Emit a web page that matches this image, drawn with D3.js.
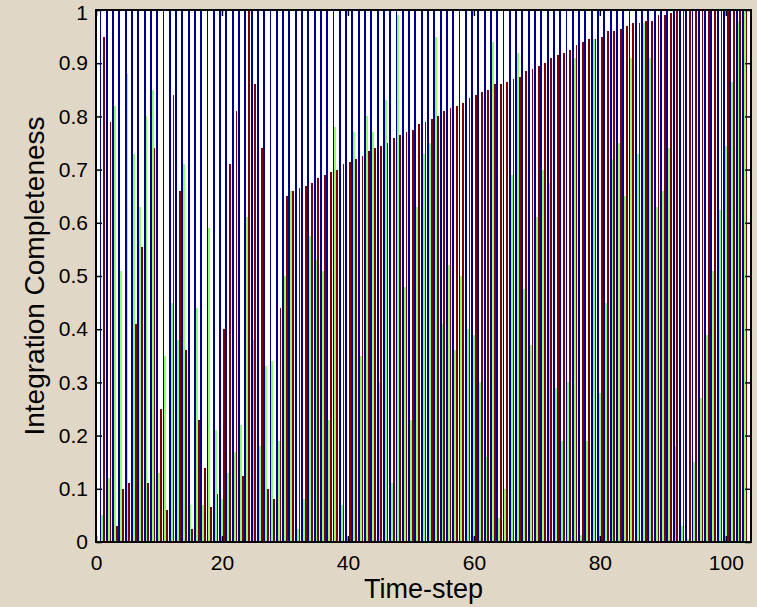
<!DOCTYPE html>
<meta charset="utf-8">
<html>
<head>
<script src="https://cdn.jsdelivr.net/npm/d3@7"></script>
<style>
  body { margin: 0; background: #e0d7c7; }
  svg text { font-family: "Liberation Sans", Arial, sans-serif; fill: #000; }
</style>
</head>
<body>
<div id="my_dataviz"></div>
<script>
// time steps 1..103
var steps = d3.range(1, 104);

// series 1 (dark blue) - always complete
var blueVals = [1,1,1,1,1,1,1,1,1,1, 1,1,1,1,1,1,1,1,1,1,
                1,1,1,1,1,1,1,1,1,1, 1,1,1,1,1,1,1,1,1,1,
                1,1,1,1,1,1,1,1,1,1, 1,1,1,1,1,1,1,1,1,1,
                1,1,1,1,1,1,1,1,1,1, 1,1,1,1,1,1,1,1,1,1,
                1,1,1,1,1,1,1,1,1,1, 1,1,1,1,1,1,1,1,1,1,
                1,1,1];

// series 2 (light green)
var greenVals = [0.05,0.12,0.82,0.51,0.88,0.73,0.63,0.80,0.85,0.13,
                 0.35,0.45,0.38,0.71,0.07,0.44,0.07,0.59,0.21,0.08,
                 0.13,0.17,0.22,0.61,0.38,0.18,0.33,0.34,0.19,0.50,
                 0.66,0.025,0.08,0.575,0.53,0.51,0.23,0.78,0.07,0.01,
                 0.77,0.35,0.80,0.77,0.30,0.83,0.11,0.99,0.48,0.23,
                 0.63,0.73,0.75,0.95,0.41,0.52,0.36,0.50,0.40,0.39,
                 0.30,0.16,0.94,0.045,0.10,0.69,0.92,0.475,0.37,0.61,
                 0.70,0.675,0.29,0.19,0.30,0.91,0.013,0.19,0.945,0.28,
                 0.45,0.72,0.75,0.65,0.91,0.73,0.975,0.91,0.63,0.66,
                 0.74,0.18,0.03,0.005,0.15,0.27,0.39,0.51,0.625,0.745,
                 0.865,0.98,1.0];

// series 3 (dark red)
var redVals = [0.95,0.79,0.03,0.10,0.11,0.41,0.555,0.11,0.74,0.25,
               0.06,0.84,0.66,0.36,0.025,0.23,0.14,0.065,0.09,0.40,
               0.71,0.81,0.125,1.0,0.86,0.74,0.10,0.08,0.44,0.65,
               0.66,0.665,0.67,0.675,0.685,0.69,0.695,0.70,0.71,0.715,
               0.72,0.725,0.735,0.74,0.745,0.75,0.76,0.765,0.77,0.775,
               0.785,0.79,0.795,0.80,0.81,0.815,0.82,0.825,0.835,0.84,
               0.845,0.85,0.86,0.86,0.865,0.87,0.875,0.885,0.89,0.895,
               0.90,0.91,0.915,0.92,0.925,0.935,0.94,0.945,0.945,0.95,
               0.96,0.96,0.965,0.97,0.975,0.975,0.98,0.98,0.99,0.99,
               0.995,1,1,1,1,1,1,1,1,1,
               1,1,1];

var xTicks = [0, 20, 40, 60, 80, 100];
var xTickLabels = ["0", "20", "40", "60", "80", "100"];
var yTicks = [0, 0.1, 0.2, 0.3, 0.4, 0.5, 0.6, 0.7, 0.8, 0.9, 1];
var yTickLabels = ["0", "0.1", "0.2", "0.3", "0.4", "0.5", "0.6", "0.7", "0.8", "0.9", "1"];

var W = 757, H = 607;
var margin = {top: 10, right: 6, bottom: 65, left: 96};
var width = W - margin.left - margin.right,
    height = H - margin.top - margin.bottom;

var svg = d3.select("#my_dataviz")
  .append("svg")
    .attr("width", W)
    .attr("height", H)
  .append("g")
    .attr("transform", "translate(" + margin.left + "," + margin.top + ")");

var x = d3.scaleLinear().domain([0, 104]).range([0, width]);
var y = d3.scaleLinear().domain([0, 1]).range([height, 0]);

svg.append("defs").append("clipPath").attr("id", "clip")
  .append("rect").attr("width", width).attr("height", height);

// white axes background
svg.append("rect")
  .attr("width", width)
  .attr("height", height)
  .attr("fill", "#fff");

// grouped bars: left/right edge of each bar relative to the step, in x units
var series = [
  {vals: blueVals,  color: "#00008f", a: -0.44, b: -0.14},
  {vals: greenVals, color: "#8fff70", a: -0.14, b: 0.16},
  {vals: redVals,   color: "#800000", a: 0.16,  b: 0.44}
];

var bars = svg.append("g").attr("clip-path", "url(#clip)")
  .attr("shape-rendering", "crispEdges");
series.forEach(function(s) {
  bars.append("g").selectAll("rect")
    .data(steps)
    .enter().append("rect")
      .attr("x", function(d) { return Math.round(x(d + s.a)); })
      .attr("width", function(d) {
        return Math.max(1, Math.round(x(d + s.b)) - Math.round(x(d + s.a)));
      })
      .attr("y", function(d, i) { return y(s.vals[i]); })
      .attr("height", function(d, i) { return y(0) - y(s.vals[i]); })
      .attr("fill", s.color);
});

// axes with inward ticks
var fs = "21px";
var xAxis = svg.append("g")
  .attr("transform", "translate(0," + height + ")")
  .call(d3.axisBottom(x).tickValues(xTicks)
        .tickFormat(function(d, i) { return xTickLabels[i]; })
        .tickSizeInner(-6).tickSizeOuter(0).tickPadding(13));
xAxis.selectAll("text").style("font-size", fs);

var yAxis = svg.append("g")
  .call(d3.axisLeft(y).tickValues(yTicks)
        .tickFormat(function(d, i) { return yTickLabels[i]; })
        .tickSizeInner(-6).tickSizeOuter(0).tickPadding(8));
yAxis.selectAll("text").style("font-size", fs)
  // top label sits a touch lower, as in the original
  .attr("dy", function(d) { return d === 1 ? "0.45em" : "0.32em"; });

svg.append("g")
  .call(d3.axisTop(x).tickValues(xTicks).tickFormat("")
        .tickSizeInner(-6).tickSizeOuter(0));
svg.append("g")
  .attr("transform", "translate(" + width + ",0)")
  .call(d3.axisRight(y).tickValues(yTicks).tickFormat("")
        .tickSizeInner(-6).tickSizeOuter(0));

svg.selectAll(".domain").remove();
svg.selectAll(".tick line").attr("stroke", "#000").attr("stroke-width", 1.5);

// box
svg.append("rect")
  .attr("width", width)
  .attr("height", height)
  .attr("fill", "none")
  .attr("stroke", "#000")
  .attr("stroke-width", 2);

// labels
svg.append("text")
  .attr("text-anchor", "middle")
  .attr("x", width / 2)
  .attr("y", height + 56)
  .style("font-size", "27px")
  .text("Time-step");

svg.append("text")
  .attr("text-anchor", "middle")
  .attr("transform", "rotate(-90)")
  .attr("x", -height / 2)
  .attr("y", -margin.left + 44)
  .style("font-size", "28px")
  .text("Integration Completeness");
</script>
</body>
</html>
